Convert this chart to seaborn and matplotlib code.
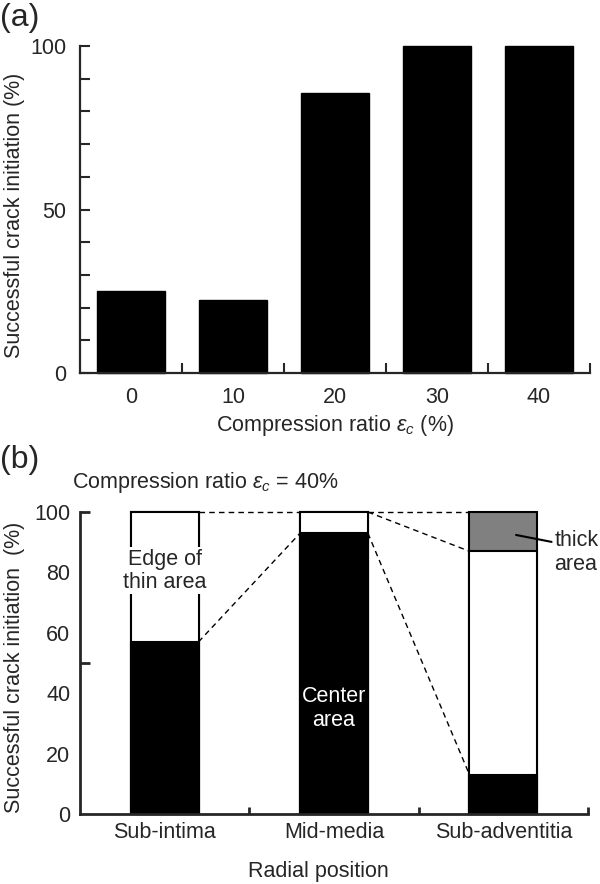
import numpy as np
import pandas as pd
import matplotlib
matplotlib.use("Agg")
import matplotlib.pyplot as plt
import seaborn as sns
from matplotlib.ticker import FixedLocator

# ==============================
# DATA
# ==============================

# (a) success vs compression ratio
compression = ["0", "10", "20", "30", "40"]
success = [25, 22.2, 85.7, 100, 100]

# (b) success by radial position at 40% compression
positions = ["Sub-intima", "Mid-media", "Sub-adventitia"]
center_area = [57, 93, 13]      # black
edge_thin_area = [43, 7, 74]    # white
thick_area = [0, 0, 13]         # grey

# ==============================
# STYLE
# ==============================

sns.set_style("ticks")
plt.rcParams["font.family"] = ["Liberation Sans", "DejaVu Sans"]
plt.rcParams["mathtext.fontset"] = "custom"
plt.rcParams["mathtext.rm"] = "Liberation Sans"
plt.rcParams["mathtext.it"] = "Liberation Sans:italic"
FS = 15.5

fig = plt.figure(figsize=(6, 8.84), dpi=100)

W = 600
H = 884

def px_axes(l, t, r, b):
    return fig.add_axes([l / W, 1 - b / H, (r - l) / W, (b - t) / H])

# ==============================
# PANEL (a)
# ==============================

ax1 = px_axes(80, 46, 590, 373)
df_a = pd.DataFrame({"ratio": compression, "success": success})
sns.barplot(data=df_a, x="ratio", y="success", color="black",
            edgecolor="black", width=0.67, saturation=1, ax=ax1)
ax1.set_xlim(-0.5, len(compression) - 0.5)
ax1.set_ylim(0, 100)
for p in ax1.patches:
    p.set_clip_on(False)

sns.despine(ax=ax1)
for s in ["left", "bottom"]:
    ax1.spines[s].set_linewidth(1.6)

ax1.set_yticks([0, 50, 100])
ax1.yaxis.set_minor_locator(FixedLocator(np.arange(0, 101, 10)))
ax1.xaxis.set_minor_locator(FixedLocator(np.arange(len(compression)) + 0.5))
ax1.tick_params(axis="y", which="both", direction="in", length=7, width=1.5,
                labelsize=FS, pad=10)
ax1.tick_params(axis="x", which="major", length=0, labelsize=FS, pad=10)
ax1.tick_params(axis="x", which="minor", direction="in", length=7, width=1.5)

ax1.set_xlabel(r"Compression ratio $\varepsilon_c$ (%)", fontsize=FS)
ax1.set_ylabel("Successful crack initiation (%)", fontsize=FS)
ax1.xaxis.set_label_coords(0.5, -(425 - 373) / 327)
ax1.xaxis.label.set_va("center")
ax1.yaxis.set_label_coords(-65 / 510, 0.483)
ax1.yaxis.label.set_va("center")

fig.text(0.0, 1 - 18 / H, "(a)", fontsize=23, ha="left", va="center")

# ==============================
# PANEL (b)
# ==============================

ax2 = px_axes(80, 512, 588, 814)
BW = 0.4

lower = np.array(center_area)
middle = lower + np.array(edge_thin_area)
top = middle + np.array(thick_area)

layers = [
    (top, ["white", "white", "#808080"]),
    (middle, ["white", "white", "white"]),
    (lower, ["black", "black", "black"]),
]
for vals, cols in layers:
    df_b = pd.DataFrame({"pos": positions, "val": vals})
    sns.barplot(data=df_b, x="pos", y="val", hue="pos", palette=cols,
                legend=False, edgecolor="black", linewidth=1.5, width=BW,
                saturation=1, ax=ax2)

ax2.set_xlim(-0.5, len(positions) - 0.5)
ax2.set_ylim(0, 100)
for p in ax2.patches:
    p.set_clip_on(False)

# dashed connectors between neighbouring bars
dash = dict(color="black", lw=1, ls=(0, (4, 3)), clip_on=False)
half = BW / 2
ax2.plot([0 + half, 1 - half], [top[0], top[1]], **dash)
ax2.plot([0 + half, 1 - half], [lower[0], lower[1]], **dash)
ax2.plot([1 + half, 2 - half], [top[1], top[2]], **dash)
ax2.plot([1 + half, 2 - half], [top[1], middle[2]], **dash)
ax2.plot([1 + half, 2 - half], [lower[1], lower[2]], **dash)

sns.despine(ax=ax2)
for s in ["left", "bottom"]:
    ax2.spines[s].set_linewidth(2.0)

ax2.set_yticks(np.arange(0, 101, 20))
ax2.yaxis.set_minor_locator(FixedLocator([50, 100]))
ax2.yaxis.remove_overlapping_locs = False
ax2.xaxis.set_minor_locator(FixedLocator(np.arange(len(positions)) + 0.5))
ax2.tick_params(axis="y", which="major", length=0, labelsize=FS, pad=7)
ax2.tick_params(axis="y", which="minor", direction="in", length=7, width=2)
ax2.tick_params(axis="x", which="major", length=0, labelsize=FS, pad=6)
ax2.tick_params(axis="x", which="minor", direction="in", length=5, width=2)

ax2.set_xlabel("Radial position", fontsize=FS)
ax2.set_ylabel("Successful crack initiation  (%)", fontsize=FS)
ax2.xaxis.set_label_coords(0.47, -(872 - 814) / 302)
ax2.xaxis.label.set_va("center")
ax2.yaxis.set_label_coords(-65 / 508, 0.487)
ax2.yaxis.label.set_va("center")

ax2.text(0, 80.5, "Edge of\nthin area", fontsize=FS, ha="center", va="center",
         linespacing=1.15, zorder=5,
         bbox=dict(facecolor="white", edgecolor="none", pad=1))
ax2.text(1, 35, "Center\narea", fontsize=FS, ha="center", va="center",
         color="white", linespacing=1.15, zorder=5)
ax2.text(2.30, 86.6, "thick\narea", fontsize=FS, ha="left", va="center",
         linespacing=1.15, zorder=5)
ax2.plot([2.075, 2.285], [92.4, 90.1], color="black", lw=1.5, clip_on=False,
         zorder=5)

fig.text(72 / W, 1 - 483 / H, r"Compression ratio $\varepsilon_c$ = 40%",
         fontsize=FS, ha="left", va="center")
fig.text(0.0, 1 - 460 / H, "(b)", fontsize=23, ha="left", va="center")

plt.savefig("out.png", dpi=100)
